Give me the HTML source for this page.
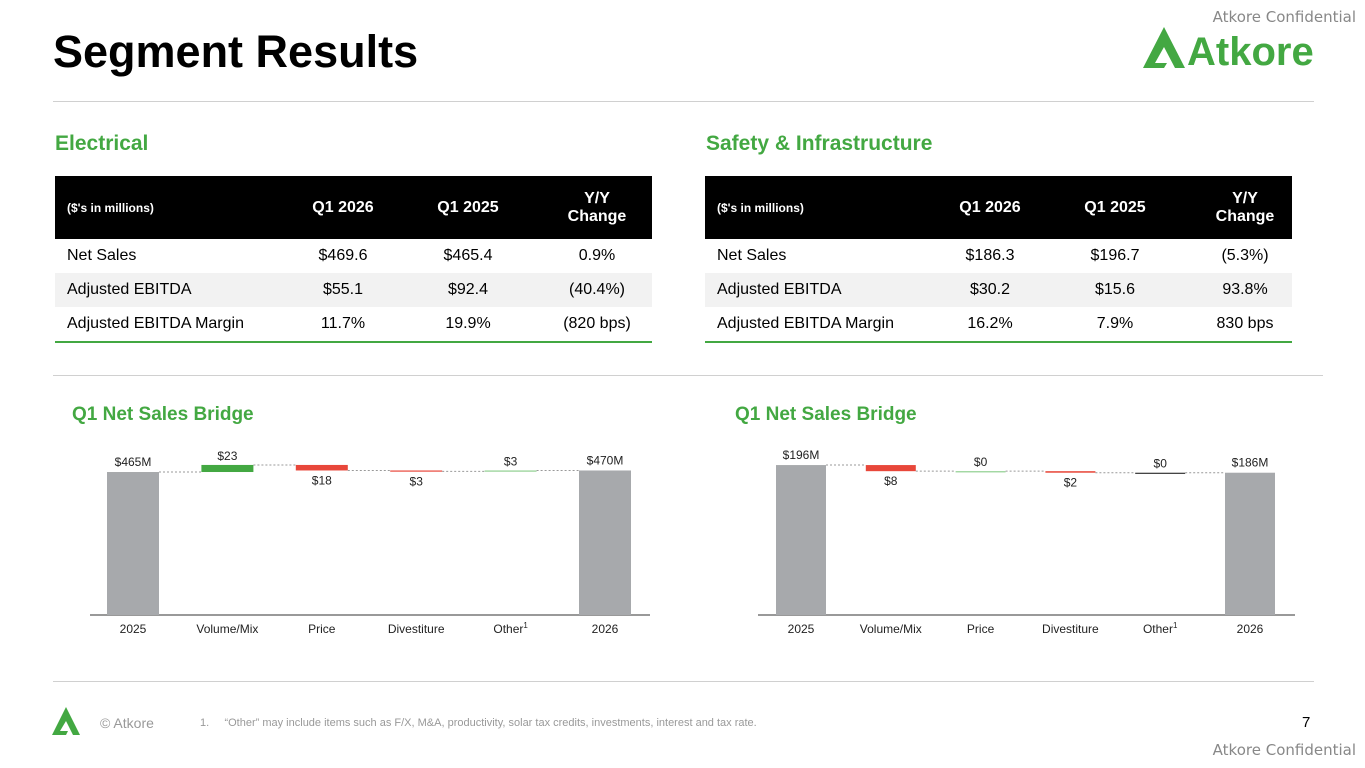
<!DOCTYPE html>
<html><head><meta charset="utf-8">
<style>
body{margin:0;width:1365px;height:768px;background:#fff;font-family:"Liberation Sans",Arial,sans-serif;position:relative;overflow:hidden;color:#000}
.abs{position:absolute}
h1{position:absolute;left:53px;top:26px;margin:0;font-size:45px;font-weight:bold;letter-spacing:0px}
.rule{position:absolute;height:1px;background:#d0d0d0}
.sec{position:absolute;color:#43a842;font-weight:bold;font-size:21px}
table{position:absolute;border-collapse:collapse;font-size:16px;table-layout:fixed}
th{background:#000;color:#fff;font-weight:bold;height:63px;padding:0;text-align:center}
th.l{text-align:left;padding-left:12px;font-size:12px}
td{height:34px;padding:0;text-align:center;white-space:nowrap}
td.l{text-align:left;padding-left:12px}
tr.g td{background:#f2f2f2}
table{border-bottom:2px solid #43a842}
.conf{position:absolute;color:#888;font-size:15px;font-family:"DejaVu Sans","Liberation Sans",sans-serif}
</style></head><body>
<h1>Segment Results</h1>
<div class="conf" style="right:9px;top:8px">Atkore Confidential</div>
<div class="conf" style="right:9px;top:741px">Atkore Confidential</div>
<div class="abs" style="left:1143px;top:25px;width:175px;height:45px">
<svg width="175" height="45"><polygon points="0,43 21,2 42,43 32,43 21,22 12,38 24,38 21,43" fill="#43a842"/>
<text x="44" y="40" font-family="Liberation Sans" font-weight="bold" font-size="40" fill="#43a842">Atkore</text></svg></div>
<div class="rule" style="left:53px;top:101px;width:1261px"></div>

<div class="sec" style="left:55px;top:132px">Electrical</div>
<div class="sec" style="left:706px;top:132px">Safety &amp; Infrastructure</div>

<table style="left:55px;top:176px;width:597px">
<colgroup><col style="width:237px"><col style="width:102px"><col style="width:148px"><col style="width:110px"></colgroup>
<tr><th class="l">($'s in millions)</th><th>Q1 2026</th><th>Q1 2025</th><th>Y/Y<br>Change</th></tr>
<tr><td class="l">Net Sales</td><td>$469.6</td><td>$465.4</td><td>0.9%</td></tr>
<tr class="g"><td class="l">Adjusted EBITDA</td><td>$55.1</td><td>$92.4</td><td>(40.4%)</td></tr>
<tr><td class="l">Adjusted EBITDA Margin</td><td>11.7%</td><td>19.9%</td><td>(820 bps)</td></tr>
</table>
<table style="left:705px;top:176px;width:587px">
<colgroup><col style="width:243px"><col style="width:84px"><col style="width:166px"><col style="width:94px"></colgroup>
<tr><th class="l">($'s in millions)</th><th>Q1 2026</th><th>Q1 2025</th><th>Y/Y<br>Change</th></tr>
<tr><td class="l">Net Sales</td><td>$186.3</td><td>$196.7</td><td>(5.3%)</td></tr>
<tr class="g"><td class="l">Adjusted EBITDA</td><td>$30.2</td><td>$15.6</td><td>93.8%</td></tr>
<tr><td class="l">Adjusted EBITDA Margin</td><td>16.2%</td><td>7.9%</td><td>830 bps</td></tr>
</table>

<div class="rule" style="left:53px;top:375px;width:1270px"></div>
<div class="sec" style="left:72px;top:404px;font-size:19px">Q1 Net Sales Bridge</div>
<div class="sec" style="left:735px;top:404px;font-size:19px">Q1 Net Sales Bridge</div>

<svg id="c1" class="abs" style="left:0;top:0" width="1365" height="768"></svg>

<div class="rule" style="left:53px;top:681px;width:1261px"></div>
<div class="abs" style="left:52px;top:706px"><svg width="36" height="30"><polygon points="0,29 14,1 28,29 21,29 14,15 8,25 16,25 14,29" fill="#43a842"/></svg></div>
<div class="abs" style="left:100px;top:715px;color:#999;font-size:14px">© Atkore</div>
<div class="abs" style="left:200px;top:717px;color:#999;font-size:11px">1.&nbsp;&nbsp;&nbsp;&nbsp;&nbsp;“Other” may include items such as F/X, M&amp;A, productivity, solar tax credits, investments, interest and tax rate.</div>
<div class="abs" style="left:1302px;top:714px;font-size:15px">7</div>

<script>
const categories=["2025","Volume/Mix","Price","Divestiture","Other","2026"];
const elecStart=465, elecEnd=470;
const elecDeltas=[23,-18,-3,3];
const elecLabels=["$465M","$23","$18","$3","$3","$470M"];
const siStart=196, siEnd=186;
const siDeltas=[-8,0,-2,0];
const siLabels=["$196M","$8","$0","$2","$0","$186M"];
const siDeltaColors=["#e8473a","#8fcf8f","#e8473a","#333"];
const elecDeltaColors=["#43a842","#e8473a","#e8473a","#8fcf8f"];

const svg=document.getElementById('c1');
const NS='http://www.w3.org/2000/svg';
function mk(tag,attrs){const e=document.createElementNS(NS,tag);for(const k in attrs)e.setAttribute(k,attrs[k]);svg.appendChild(e);return e;}
function txt(x,y,s,name,size){const t=mk('text',{x:x,y:y,'text-anchor':'middle','font-size':size||12,'font-family':'Liberation Sans, Arial, sans-serif',fill:'#222'});t.textContent=s;return t;}
function chart(id,start,end,deltas,labels,colors,g){
  const yS=v=>g.base-v*g.scale;
  const xS=i=>g.x0+i*g.step;
  const ax=mk('line',{x1:g.ax0,x2:g.ax1,y1:g.base,y2:g.base,stroke:'#333','stroke-width':1});
  
  const b0=mk('rect',{x:xS(0),y:yS(start),width:g.w,height:g.base-yS(start),fill:'#a7a9ac'});
  
  txt(xS(0)+g.w/2,yS(start)-6,labels[0],id+'-label-2025');
  let cur=start;
  deltas.forEach((d,i)=>{
    const nxt=cur+d;const x=xS(i+1);
    const top=yS(Math.max(cur,nxt)),bot=yS(Math.min(cur,nxt));
    const l=mk('line',{x1:xS(i)+g.w,x2:x,y1:yS(cur),y2:yS(cur),stroke:'#999','stroke-dasharray':'2,2','stroke-width':1});
    
    const r=mk('rect',{x:x,y:top,width:g.w,height:Math.max(1.2,bot-top),fill:colors[i]});
    
    if(d>=0) txt(x+g.w/2,top-5,labels[i+1],id+'-label-'+(i+1));
    else txt(x+g.w/2,Math.max(bot,top+1.2)+14,labels[i+1],id+'-label-'+(i+1));
    cur=nxt;
  });
  const l=mk('line',{x1:xS(4)+g.w,x2:xS(5),y1:yS(cur),y2:yS(cur),stroke:'#999','stroke-dasharray':'2,2','stroke-width':1});
  
  const b5=mk('rect',{x:xS(5),y:yS(end),width:g.w,height:g.base-yS(end),fill:'#a7a9ac'});
  
  txt(xS(5)+g.w/2,yS(end)-6,labels[5],id+'-label-2026');
  categories.forEach((c,i)=>{
    const t=txt(xS(i)+g.w/2,g.base+18,c,id+'-category-'+i);
    if(c==='Other'){const s=document.createElementNS(NS,'tspan');s.setAttribute('dy','-5');s.setAttribute('font-size','8');s.textContent='1';t.appendChild(s);}
  });
}
chart('electrical',elecStart,elecEnd,elecDeltas,elecLabels,elecDeltaColors,{x0:107,step:94.4,w:52,base:615,scale:0.3075,ax0:90,ax1:650});
chart('si',siStart,siEnd,siDeltas,siLabels,siDeltaColors,{x0:776,step:89.8,w:50,base:615,scale:0.765,ax0:758,ax1:1295});
</script>
</body></html>
